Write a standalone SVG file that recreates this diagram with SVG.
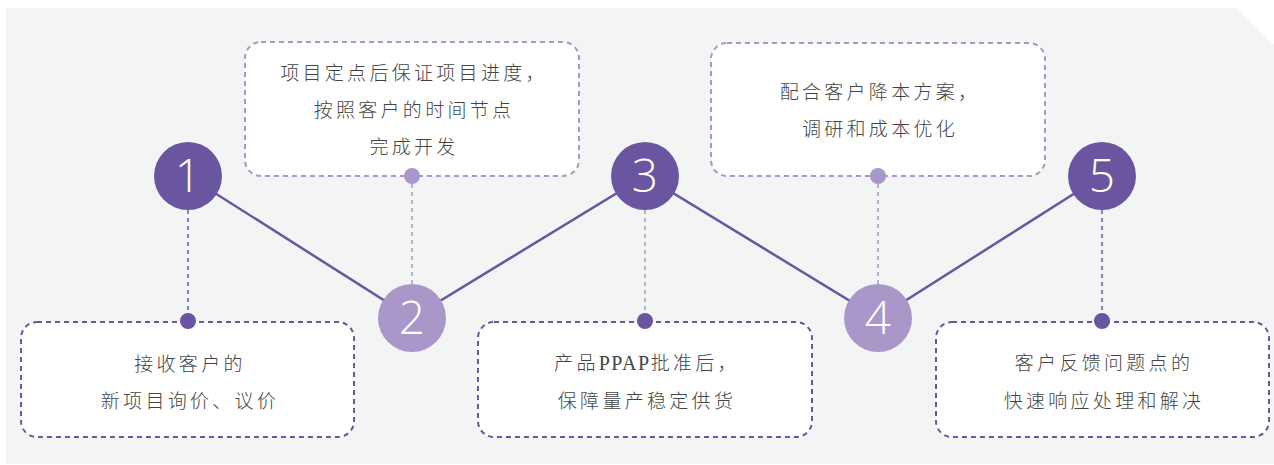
<svg xmlns="http://www.w3.org/2000/svg" width="1274" height="465" viewBox="0 0 1274 465">
<style>
.bg{fill:#f3f5f4}
.box{fill:#ffffff;stroke-width:2;stroke-dasharray:5 4}
.dk{stroke:#6a55a0}
.lt{stroke:#a897c8}
.txt{font-family:"Liberation Serif","Noto Sans CJK SC",serif;font-size:19px;font-weight:300;fill:#444444;letter-spacing:3.3px;text-anchor:middle}
.lat{letter-spacing:1.5px;font-size:20px}
.num{font-family:"Open Sans","Liberation Sans",sans-serif;font-size:46px;font-weight:300;fill:#ffffff;text-anchor:middle}
.c-dk{fill:#6a55a0}
.c-lt{fill:#a897c8}
.link{stroke:#6a55a0;stroke-width:2.5;fill:none}
.vd{stroke-width:1.5;stroke-dasharray:4 4;fill:none}
</style>
<polygon class="bg" points="6,8 1237,8 1274,45 1274,464 6,464"/>
<g id="connectors">
<polyline class="link" points="188,176 412,318 645,176 878,318 1102,176"/>
<line class="vd dk" x1="188" y1="210" x2="188" y2="321"/>
<line class="vd lt" x1="412" y1="176" x2="412" y2="284"/>
<line class="vd lt" x1="645" y1="210" x2="645" y2="321"/>
<line class="vd lt" x1="878" y1="176" x2="878" y2="284"/>
<line class="vd dk" x1="1102" y1="210" x2="1102" y2="321"/>
</g>
<g id="node1">
<rect class="box dk" x="21" y="322" width="333" height="115" rx="16"/>
<circle class="c-dk" cx="188" cy="321" r="8"/>
<text class="txt" x="190" y="371">接收客户的</text>
<text class="txt" x="190" y="408">新项目询价、议价</text>
<circle class="c-dk" cx="188" cy="176" r="34"/>
<text class="num" x="188" y="192">1</text>
</g>
<g id="node2">
<rect class="box lt" x="245" y="42" width="334" height="134" rx="16"/>
<circle class="c-lt" cx="412" cy="176" r="8"/>
<text class="txt" x="414" y="80">项目定点后保证项目进度，</text>
<text class="txt" x="414" y="117">按照客户的时间节点</text>
<text class="txt" x="414" y="154">完成开发</text>
<circle class="c-lt" cx="412" cy="318" r="34"/>
<text class="num" x="412" y="334">2</text>
</g>
<g id="node3">
<rect class="box dk" x="478" y="322" width="334" height="115" rx="16"/>
<circle class="c-dk" cx="645" cy="321" r="8"/>
<text class="txt" x="647" y="370">产品<tspan class="lat">PPAP</tspan>批准后，</text>
<text class="txt" x="647" y="408">保障量产稳定供货</text>
<circle class="c-dk" cx="645" cy="176" r="34"/>
<text class="num" x="645" y="192">3</text>
</g>
<g id="node4">
<rect class="box lt" x="711" y="43" width="334" height="133" rx="16"/>
<circle class="c-lt" cx="878" cy="176" r="8"/>
<text class="txt" x="880" y="99">配合客户降本方案，</text>
<text class="txt" x="880" y="136">调研和成本优化</text>
<circle class="c-lt" cx="878" cy="318" r="34"/>
<text class="num" x="878" y="334">4</text>
</g>
<g id="node5">
<rect class="box dk" x="936" y="322" width="333" height="115" rx="16"/>
<circle class="c-dk" cx="1102" cy="321" r="8"/>
<text class="txt" x="1104" y="370">客户反馈问题点的</text>
<text class="txt" x="1104" y="408">快速响应处理和解决</text>
<circle class="c-dk" cx="1102" cy="176" r="34"/>
<text class="num" x="1102" y="192">5</text>
</g>
</svg>
